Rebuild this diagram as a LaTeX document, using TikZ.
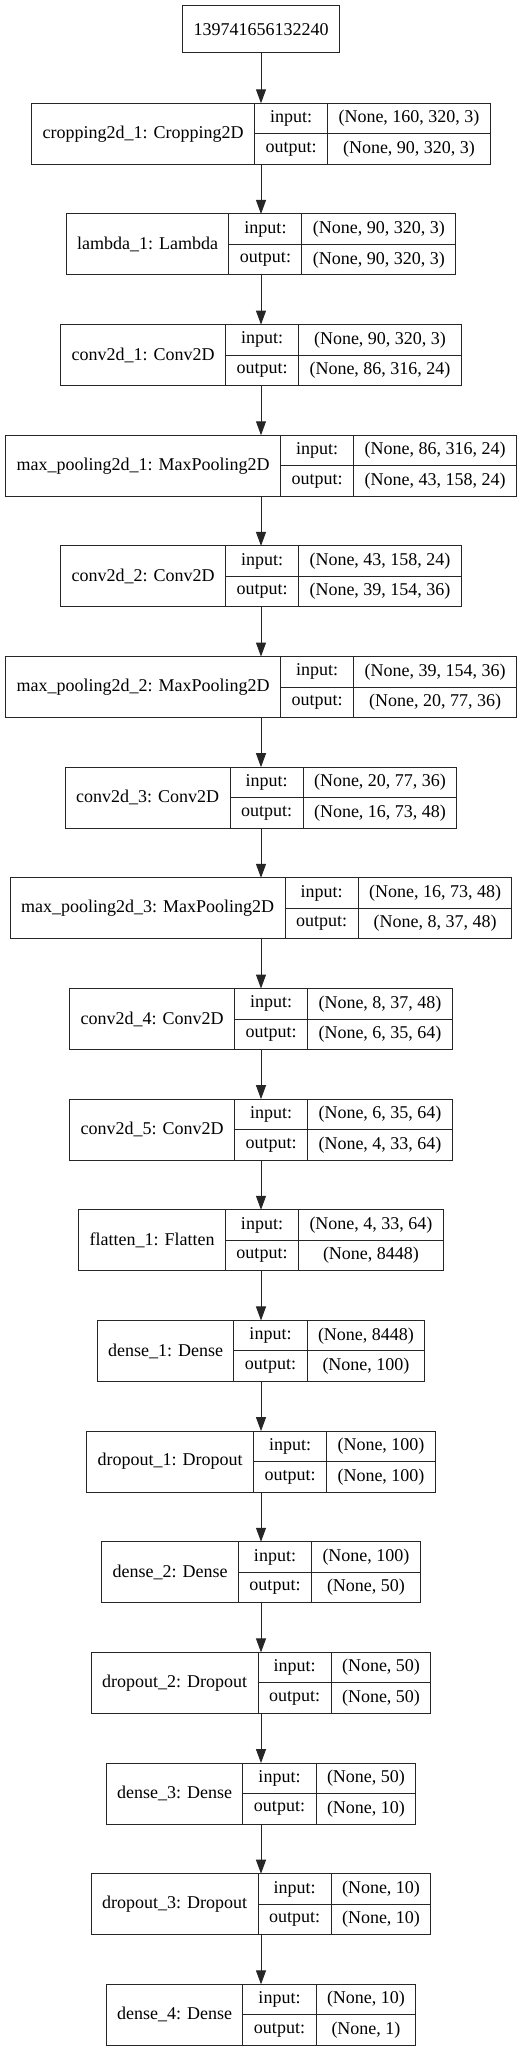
\documentclass[tikz,border=0pt]{standalone}
\usepackage{fontspec}
\setmainfont{Liberation Serif}
\usetikzlibrary{arrows.meta}
\usetikzlibrary{positioning}
\newcommand{\layerfont}{\fontsize{18}{20}\selectfont}
\tikzset{cell/.style = {draw=black!85, line width=1pt, inner xsep=0pt, inner ysep=0pt,
                        outer sep=0pt, font=\layerfont, text=black},
         flow/.style = {-{Triangle[length=14pt, width=10pt]}, draw=black!85, line width=1pt}}
\newdimen\namew
\newdimen\valw
\newdimen\tmpw
\newdimen\labw
% widths are taken outside the picture, where the text font is live
\newcommand{\measurelayer}[5]{%
  \settowidth{\namew}{\layerfont #3}\advance\namew by 22pt
  \settowidth{\valw}{\layerfont #4}\settowidth{\tmpw}{\layerfont #5}%
  \ifdim\tmpw>\valw \valw=\tmpw \fi
  \advance\valw by 22pt
  \expandafter\xdef\csname nw@#1\endcsname{\the\namew}%
  \expandafter\xdef\csname vw@#1\endcsname{\the\valw}%
}
% one layer: id, row, name, input shape, output shape
\newcommand{\layerbox}[5]{%
  \edef\namewm{\csname nw@#1\endcsname}\edef\valwm{\csname vw@#1\endcsname}%
  \pgfmathsetlengthmacro{\boxw}{\namewm+\labwm+\valwm}%
  \pgfmathsetmacro{\ytop}{103.3+110.65*#2}%
  \node [cell, anchor=north, minimum width=\boxw, minimum height=61pt] (#1) at (261, \ytop) {};
  \node [cell, anchor=north west, minimum width=\namewm, minimum height=61pt] (#1-name) at (#1.north west) {#3};
  \node [cell, anchor=north west, minimum width=\labwm, minimum height=30.5pt] (#1-inl) at (#1-name.north east) {input:};
  \node [cell, anchor=north west, minimum width=\labwm, minimum height=30.5pt] (#1-outl) at (#1-inl.south west) {output:};
  \node [cell, anchor=north west, minimum width=\valwm, minimum height=30.5pt] (#1-in) at (#1-inl.north east) {#4};
  \node [cell, anchor=north west, minimum width=\valwm, minimum height=30.5pt] (#1-out) at (#1-in.south west) {#5};
}
\newcommand{\layerlist}{%
  \layer{crop}{0}{cropping2d\_1: Cropping2D}{(None, 160, 320, 3)}{(None, 90, 320, 3)}%
  \layer{lambda}{1}{lambda\_1: Lambda}{(None, 90, 320, 3)}{(None, 90, 320, 3)}%
  \layer{conv1}{2}{conv2d\_1: Conv2D}{(None, 90, 320, 3)}{(None, 86, 316, 24)}%
  \layer{pool1}{3}{max\_pooling2d\_1: MaxPooling2D}{(None, 86, 316, 24)}{(None, 43, 158, 24)}%
  \layer{conv2}{4}{conv2d\_2: Conv2D}{(None, 43, 158, 24)}{(None, 39, 154, 36)}%
  \layer{pool2}{5}{max\_pooling2d\_2: MaxPooling2D}{(None, 39, 154, 36)}{(None, 20, 77, 36)}%
  \layer{conv3}{6}{conv2d\_3: Conv2D}{(None, 20, 77, 36)}{(None, 16, 73, 48)}%
  \layer{pool3}{7}{max\_pooling2d\_3: MaxPooling2D}{(None, 16, 73, 48)}{(None, 8, 37, 48)}%
  \layer{conv4}{8}{conv2d\_4: Conv2D}{(None, 8, 37, 48)}{(None, 6, 35, 64)}%
  \layer{conv5}{9}{conv2d\_5: Conv2D}{(None, 6, 35, 64)}{(None, 4, 33, 64)}%
  \layer{flat}{10}{flatten\_1: Flatten}{(None, 4, 33, 64)}{(None, 8448)}%
  \layer{dense1}{11}{dense\_1: Dense}{(None, 8448)}{(None, 100)}%
  \layer{drop1}{12}{dropout\_1: Dropout}{(None, 100)}{(None, 100)}%
  \layer{dense2}{13}{dense\_2: Dense}{(None, 100)}{(None, 50)}%
  \layer{drop2}{14}{dropout\_2: Dropout}{(None, 50)}{(None, 50)}%
  \layer{dense3}{15}{dense\_3: Dense}{(None, 50)}{(None, 10)}%
  \layer{drop3}{16}{dropout\_3: Dropout}{(None, 10)}{(None, 10)}%
  \layer{dense4}{17}{dense\_4: Dense}{(None, 10)}{(None, 1)}%
}
\begin{document}
\settowidth{\labw}{\layerfont output:}\advance\labw by 22pt
\xdef\labwm{\the\labw}%
\let\layer\measurelayer
\layerlist
\begin{tikzpicture}[x=1pt, y=-1pt]
    \useasboundingbox [fill=white] (0, 0) rectangle (527, 2052);

    \node [cell, anchor=north, minimum height=47.3pt, inner xsep=11pt] (model) at (261, 5.7) {139741656132240};

    \let\layer\layerbox
    \layerlist

    \foreach \a/\b in {model/crop, crop/lambda, lambda/conv1, conv1/pool1, pool1/conv2,
                       conv2/pool2, pool2/conv3, conv3/pool3, pool3/conv4, conv4/conv5,
                       conv5/flat, flat/dense1, dense1/drop1, drop1/dense2, dense2/drop2,
                       drop2/dense3, dense3/drop3, drop3/dense4}
      \draw [flow] (\a.south) -- (\b.north);
  \end{tikzpicture}
\end{document}
